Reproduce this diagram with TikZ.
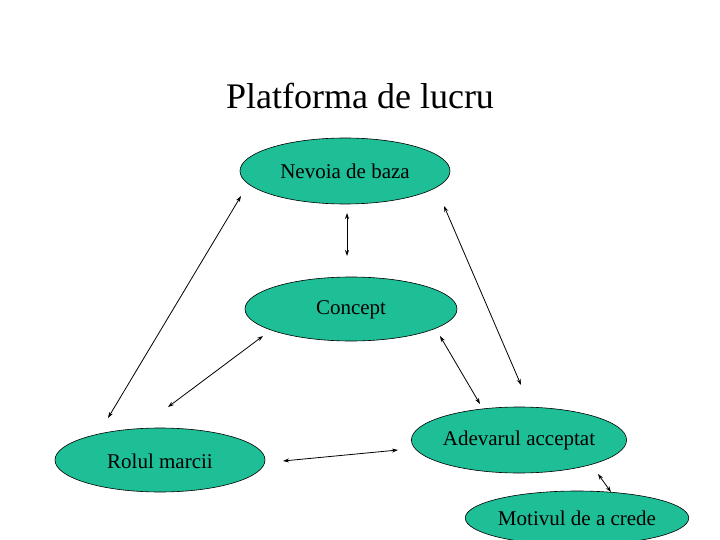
\documentclass[tikz,border=0pt]{standalone}
\usepackage{fontspec}
\setmainfont{Liberation Serif}
\usetikzlibrary{shapes.geometric,arrows.meta}
\definecolor{fillg}{RGB}{30,190,150}
\begin{document}
\begin{tikzpicture}[x=1pt,y=-1pt,
  el/.style={ellipse,draw=black,line width=0.6pt,fill=fillg,inner sep=0pt,font=\fontsize{21}{24}\selectfont},
  con/.style={{Stealth[length=6pt,width=4pt]}-{Stealth[length=6pt,width=4pt]},line width=0.8pt}]
\path[use as bounding box,fill=white] (0,0) rectangle (720,540);
\node[font=\fontsize{36}{40}\selectfont] (title) at (360,96) {Platforma de lucru};
\node[el,minimum width=210pt,minimum height=66pt] (n) at (345,171) {Nevoia de baza};
\node[el,minimum width=212pt,minimum height=64pt] (c) at (351,309) {};
\node[font=\fontsize{21}{24}\selectfont] (ct) at (351,310) {Concept};
\node[el,minimum width=210pt,minimum height=64pt] (r) at (160,460) {};
\node[font=\fontsize{21}{24}\selectfont] (rt) at (160,461) {Rolul marcii};
\node[el,minimum width=210pt,minimum height=66pt] (a) at (519,440) {Adevarul acceptat};
\node[el,minimum width=222pt,minimum height=54pt] (m) at (577,518) {Motivul de a crede};
\coordinate (p1) at (241,196); \coordinate (p2) at (108,418);
\coordinate (p3) at (347,213); \coordinate (p4) at (347,256);
\coordinate (p5) at (263,336); \coordinate (p6) at (168,407);
\coordinate (p7) at (444,206); \coordinate (p8) at (521,385);
\coordinate (p9) at (440,336); \coordinate (p10) at (480,404);
\coordinate (p11) at (283,461); \coordinate (p12) at (398,450);
\coordinate (p13) at (598,474); \coordinate (p14) at (611,492);
\draw[con] (p1) -- (p2);
\draw[con] (p3) -- (p4);
\draw[con] (p5) -- (p6);
\draw[con] (p7) -- (p8);
\draw[con] (p9) -- (p10);
\draw[con] (p11) -- (p12);
\draw[con] (p13) -- (p14);
\end{tikzpicture}
\end{document}
